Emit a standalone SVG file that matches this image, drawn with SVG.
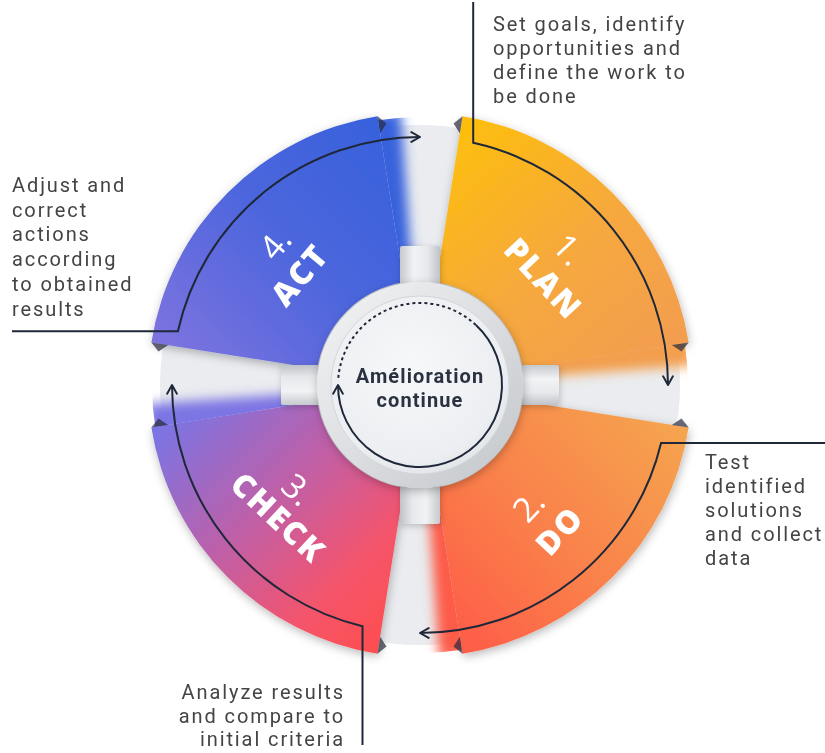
<svg xmlns="http://www.w3.org/2000/svg" width="825" height="753" viewBox="0 0 825 753">
<defs>
<style>
.lbl{font-family:Roboto,'Liberation Sans',sans-serif;font-size:20px;fill:#444444;letter-spacing:1.9px}
.word{font-family:'Open Sans','Liberation Sans',sans-serif;font-size:32px;font-weight:800;fill:#ffffff;letter-spacing:2px;text-anchor:middle}
.num{font-family:'Open Sans','Liberation Sans',sans-serif;font-size:34px;font-weight:400;fill:#ffffff;text-anchor:middle}
.center{font-family:Roboto,'Liberation Sans',sans-serif;font-size:20px;font-weight:700;fill:#2a3140;text-anchor:middle;letter-spacing:1.1px}
.conn{fill:none;stroke:#1e2838;stroke-width:2}
.fold{fill:#262a3d;opacity:0.7}
</style>
<linearGradient id="gPlan" gradientUnits="userSpaceOnUse" x1="470" y1="130" x2="660" y2="350">
<stop offset="0" stop-color="#fdbd10"/><stop offset="0.55" stop-color="#f6a83e"/><stop offset="1" stop-color="#f39e4f"/>
</linearGradient>
<linearGradient id="gDo" gradientUnits="userSpaceOnUse" x1="680" y1="430" x2="450" y2="650">
<stop offset="0" stop-color="#f5a44f"/><stop offset="0.55" stop-color="#fa7f4b"/><stop offset="1" stop-color="#fe5a47"/>
</linearGradient>
<linearGradient id="gCheck" gradientUnits="userSpaceOnUse" x1="160" y1="420" x2="390" y2="650">
<stop offset="0" stop-color="#7875e6"/><stop offset="0.45" stop-color="#c55ea2"/><stop offset="0.75" stop-color="#f5546a"/><stop offset="1" stop-color="#ff4e4c"/>
</linearGradient>
<linearGradient id="gAct" gradientUnits="userSpaceOnUse" x1="400" y1="120" x2="160" y2="350">
<stop offset="0" stop-color="#3561dc"/><stop offset="0.5" stop-color="#4d66dd"/><stop offset="1" stop-color="#7e73df"/>
</linearGradient>
<linearGradient id="gTab" x1="0" y1="0" x2="1" y2="0">
<stop offset="0" stop-color="#c6c9cd"/><stop offset="0.35" stop-color="#f2f3f5"/><stop offset="0.7" stop-color="#e6e8eb"/><stop offset="1" stop-color="#bfc2c7"/>
</linearGradient>
<linearGradient id="gRing" x1="0" y1="0" x2="1" y2="1">
<stop offset="0" stop-color="#f3f4f5"/><stop offset="0.5" stop-color="#dcdee1"/><stop offset="1" stop-color="#c2c5c9"/>
</linearGradient>
<radialGradient id="gDisk" cx="0.45" cy="0.4" r="0.65">
<stop offset="0" stop-color="#f7f8fa"/><stop offset="0.8" stop-color="#eceef1"/><stop offset="1" stop-color="#dfe2e6"/>
</radialGradient>
<filter id="shadow" x="-20%" y="-20%" width="140%" height="140%">
<feDropShadow dx="1" dy="3" stdDeviation="5" flood-color="#000" flood-opacity="0.28"/>
</filter>
<filter id="soft" x="-30%" y="-30%" width="160%" height="160%">
<feDropShadow dx="1" dy="2" stdDeviation="3" flood-color="#000" flood-opacity="0.2"/>
</filter>
<filter id="blur" x="-60%" y="-20%" width="220%" height="140%">
<feGaussianBlur stdDeviation="6"/>
</filter>
<clipPath id="gapClip">
<path d="M378.08,120.30 A268,268 0 0 1 461.92,120.30 L435.64,286.23 A100,100 0 0 0 404.36,286.23 Z"/>
</clipPath>
<marker id="arr" viewBox="0 0 12 12" refX="10" refY="6" markerWidth="13" markerHeight="13" markerUnits="userSpaceOnUse" orient="auto">
<path d="M2,1.5 L10,6 L2,10.5" fill="none" stroke="#1e2838" stroke-width="1.8" stroke-linecap="round" stroke-linejoin="round"/>
</marker>
</defs>

<rect width="825" height="753" fill="#ffffff"/>

<g id="band">
<circle cx="420" cy="385" r="260" fill="#eaecef"/>
</g>

<g id="segments" filter="url(#shadow)">
<g id="plan"><path d="M462.55,116.35 A272,272 0 0 1 688.65,342.45 L522.72,368.73 A104,104 0 0 0 436.27,282.28 Z" fill="url(#gPlan)"/></g>
<g id="do"><path d="M688.65,427.55 A272,272 0 0 1 462.55,653.65 L436.27,487.72 A104,104 0 0 0 522.72,401.27 Z" fill="url(#gDo)"/></g>
<g id="check"><path d="M377.45,653.65 A272,272 0 0 1 151.35,427.55 L317.28,401.27 A104,104 0 0 0 403.73,487.72 Z" fill="url(#gCheck)"/></g>
<g id="act"><path d="M151.35,342.45 A272,272 0 0 1 377.45,116.35 L403.73,282.28 A104,104 0 0 0 317.28,368.73 Z" fill="url(#gAct)"/></g>
</g>

<g id="fades">
<g clip-path="url(#gapClip)"><path d="M348.82,119.37 A275,275 0 0 1 400.82,110.67 L413.37,290.23 A95,95 0 0 0 395.41,293.24 Z" fill="#3862dc" filter="url(#blur)"/></g>
<g transform="rotate(90 420 385)"><g clip-path="url(#gapClip)"><path d="M348.82,119.37 A275,275 0 0 1 400.82,110.67 L413.37,290.23 A95,95 0 0 0 395.41,293.24 Z" fill="#f39f4e" filter="url(#blur)"/></g></g>
<g transform="rotate(180 420 385)"><g clip-path="url(#gapClip)"><path d="M348.82,119.37 A275,275 0 0 1 400.82,110.67 L413.37,290.23 A95,95 0 0 0 395.41,293.24 Z" fill="#fd5c48" filter="url(#blur)"/></g></g>
<g transform="rotate(270 420 385)"><g clip-path="url(#gapClip)"><path d="M348.82,119.37 A275,275 0 0 1 400.82,110.67 L413.37,290.23 A95,95 0 0 0 395.41,293.24 Z" fill="#7c74e3" filter="url(#blur)"/></g></g>
</g>

<g id="folds">
<path class="fold" d="M377.45,116.35 L380.11,133.14 L386.5,123.5 Z"/>
<path class="fold" d="M462.55,116.35 L459.89,133.14 L453.5,123.5 Z"/>
<g transform="rotate(90 420 385)"><path class="fold" d="M377.45,116.35 L380.11,133.14 L386.5,123.5 Z"/><path class="fold" d="M462.55,116.35 L459.89,133.14 L453.5,123.5 Z"/></g>
<g transform="rotate(180 420 385)"><path class="fold" d="M377.45,116.35 L380.11,133.14 L386.5,123.5 Z"/><path class="fold" d="M462.55,116.35 L459.89,133.14 L453.5,123.5 Z"/></g>
<g transform="rotate(270 420 385)"><path class="fold" d="M377.45,116.35 L380.11,133.14 L386.5,123.5 Z"/><path class="fold" d="M462.55,116.35 L459.89,133.14 L453.5,123.5 Z"/></g>
</g>

<g id="tabs" filter="url(#soft)">
<rect x="400" y="246" width="40" height="48" rx="2" fill="url(#gTab)"/>
<rect x="400" y="246" width="40" height="48" rx="2" fill="url(#gTab)" transform="rotate(90 420 385)"/>
<rect x="400" y="246" width="40" height="48" rx="2" fill="url(#gTab)" transform="rotate(180 420 385)"/>
<rect x="400" y="246" width="40" height="48" rx="2" fill="url(#gTab)" transform="rotate(270 420 385)"/>
</g>

<g id="hub">
<circle cx="420" cy="385" r="103" fill="url(#gRing)" filter="url(#shadow)"/>
<circle cx="420" cy="385" r="89" fill="url(#gDisk)" stroke="#d3d6da" stroke-width="1"/>
<text class="center" x="420" y="383">Amélioration</text>
<text class="center" x="420" y="407">continue</text>
</g>

<g id="connectors">
<path class="conn" d="M473.2,2 L473.2,142.8 A248,248 0 0 1 668,385" marker-end="url(#arr)"/>
<path class="conn" d="M825,443 L661.1,442.9 A248,248 0 0 1 420,633" marker-end="url(#arr)"/>
<path class="conn" d="M362.5,745 L362.5,626.2 A248,248 0 0 1 172,385" marker-end="url(#arr)"/>
<path class="conn" d="M12,331.3 L177.9,331.3 A248,248 0 0 1 420,137" marker-end="url(#arr)"/>
<path class="conn" d="M475.9,325 A82,82 0 1 1 338,385" marker-end="url(#arr)"/>
<path class="conn" stroke-dasharray="3 3" d="M338.3,377.9 A82,82 0 0 1 475.9,325"/>
</g>

<g id="label-plan" transform="translate(543,279) rotate(47)">
<text class="num" x="-4" y="-27">1.</text>
<text class="word" x="0" y="11">PLAN</text>
</g>
<g id="label-do" transform="translate(560,531) rotate(-47)">
<text class="num" x="-3" y="-28">2.</text>
<text class="word" x="0" y="11">DO</text>
</g>
<g id="label-check" transform="translate(278,518) rotate(43)">
<text class="num" x="-5" y="-22">3.</text>
<text class="word" x="0" y="11">CHECK</text>
</g>
<g id="label-act" transform="translate(300,275) rotate(-50)">
<text class="num" x="8" y="-27">4.</text>
<text class="word" x="0" y="11">ACT</text>
</g>

<g id="note-plan">
<text class="lbl" x="493" y="31">Set goals, identify</text>
<text class="lbl" x="493" y="55">opportunities and</text>
<text class="lbl" x="493" y="79">define the work to</text>
<text class="lbl" x="493" y="103">be done</text>
</g>
<g id="note-do">
<text class="lbl" x="705" y="469">Test</text>
<text class="lbl" x="705" y="493">identified</text>
<text class="lbl" x="705" y="517">solutions</text>
<text class="lbl" x="705" y="541">and collect</text>
<text class="lbl" x="705" y="565">data</text>
</g>
<g id="note-check" text-anchor="end">
<text class="lbl" x="345" y="699">Analyze results</text>
<text class="lbl" x="345" y="723">and compare to</text>
<text class="lbl" x="345" y="746">initial criteria</text>
</g>
<g id="note-act">
<text class="lbl" x="12" y="192">Adjust and</text>
<text class="lbl" x="12" y="217">correct</text>
<text class="lbl" x="12" y="241">actions</text>
<text class="lbl" x="12" y="266">according</text>
<text class="lbl" x="12" y="291">to obtained</text>
<text class="lbl" x="12" y="316">results</text>
</g>
</svg>
